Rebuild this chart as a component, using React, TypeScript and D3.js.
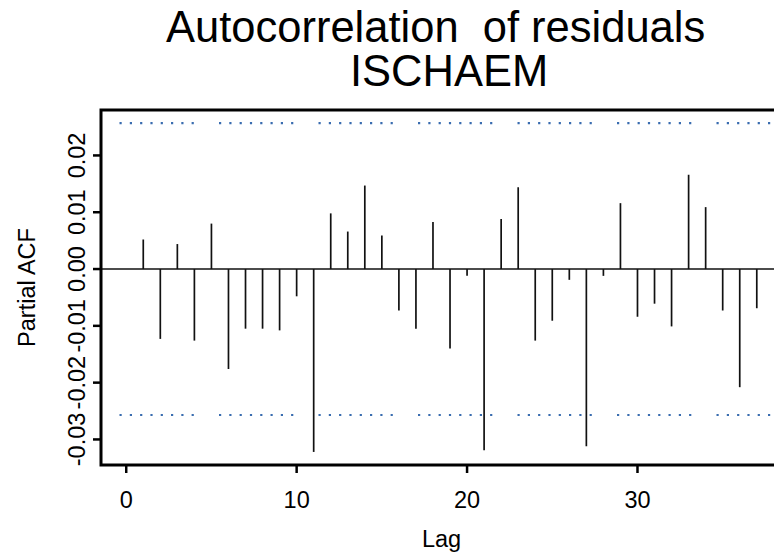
import * as d3 from "d3"

const lags = [1, 2, 3, 4, 5, 6, 7, 8, 9, 10, 11, 12, 13, 14, 15, 16, 17, 18, 19, 20, 21, 22, 23, 24, 25, 26, 27, 28, 29, 30, 31, 32, 33, 34, 35, 36, 37]
const pacf = [
  0.0052, -0.0123, 0.0044, -0.0126, 0.0080, -0.0176, -0.0105, -0.0105, -0.0108, -0.0048,
  -0.0322, 0.0098, 0.0066, 0.0147, 0.0059, -0.0073, -0.0105, 0.0083, -0.0140, -0.0012,
  -0.0319, 0.0088, 0.0144, -0.0126, -0.0091, -0.0019, -0.0312, -0.0012, 0.0116, -0.0084,
  -0.0061, -0.0101, 0.0166, 0.0109, -0.0073, -0.0208, -0.0069
]
const ciLimit = 0.0257
const xTicks = [0, 10, 20, 30]
const yTicks = [-0.03, -0.02, -0.01, 0, 0.01, 0.02]
const yTickLabels = ["-0.03", "-0.02", "-0.01", "0.00", "0.01", "0.02"]
const titleLines = ["Autocorrelation  of residuals", "ISCHAEM"]

const W = 774, H = 556
const font = "'Liberation Sans', Arial, sans-serif"

export default function App() {
  // R-style plot region: xlim [0, 37] and ylim extended by 4%
  const x = d3.scaleLinear().domain([-1.48, 38.48]).range([101, 782])
  const y = d3.scaleLinear().domain([-0.0345, 0.0280]).range([465, 110])
  const [x0, x1] = x.range()
  const [yb, yt] = y.range()

  // blue dashed confidence lines (they show up as groups of dots)
  const dash = d3.range(7).map(() => "2.2 8.1").join(" ") + " 2.2 25.2"

  return (
    <svg width={W} height={H} style={{ position: "absolute", left: 0, top: 0, background: "#fff" }}>
      <text x={166} y={42} fontFamily={font} fontSize={43.5} style={{ whiteSpace: "pre" }}>{titleLines[0]}</text>
      <text x={350} y={86} fontFamily={font} fontSize={43.5}>{titleLines[1]}</text>

      {[ciLimit, -ciLimit].map(v => (
        <line key={v} x1={x0} x2={x1} y1={y(v)} y2={y(v)}
          stroke="#3a6db0" strokeWidth={2.2} strokeDasharray={dash} strokeDashoffset={81} />
      ))}

      <line x1={x0} x2={x1} y1={y(0)} y2={y(0)} stroke="#111" strokeWidth={1.6} />
      <g stroke="#111" strokeWidth={1.7}>
        {lags.map((l, i) => (
          <line key={l} x1={x(l)} x2={x(l)} y1={y(0)} y2={y(pacf[i])} />
        ))}
      </g>

      <rect x={x0} y={yt} width={x1 - x0} height={yb - yt} fill="none" stroke="#000" strokeWidth={3} />

      <g stroke="#000" strokeWidth={2.5}>
        {yTicks.map(v => <line key={v} x1={x0 - 8} x2={x0} y1={y(v)} y2={y(v)} />)}
        {xTicks.map(v => <line key={v} x1={x(v)} x2={x(v)} y1={yb} y2={yb + 8} />)}
      </g>

      <g fontFamily={font} fontSize={23.5} textAnchor="middle">
        {yTicks.map((v, i) => (
          <text key={v} transform={`translate(85,${y(v)}) rotate(-90)`}>{yTickLabels[i]}</text>
        ))}
        {xTicks.map(v => (
          <text key={v} x={x(v)} y={508}>{v}</text>
        ))}
        <text x={(x0 + x1) / 2} y={547}>Lag</text>
        <text transform={`translate(35,${(yt + yb) / 2}) rotate(-90)`}>Partial ACF</text>
      </g>
    </svg>
  )
}
